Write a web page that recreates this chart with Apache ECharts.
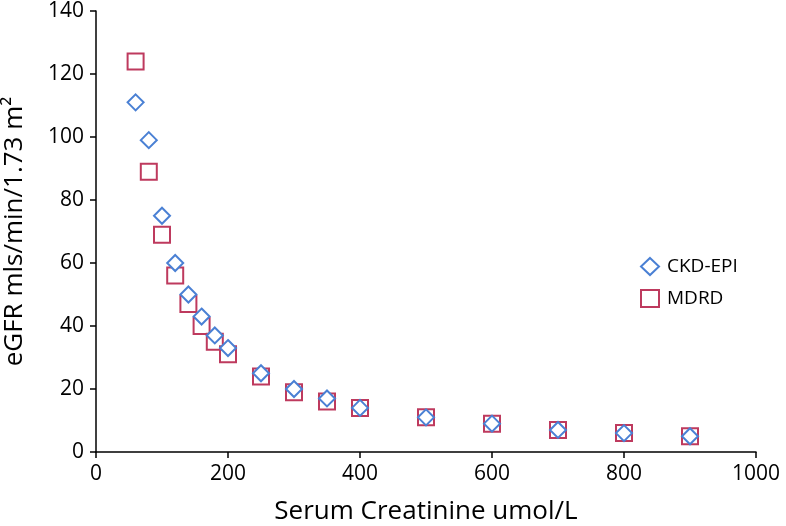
<!DOCTYPE html>
<html><head><meta charset="utf-8">
<script src="https://cdn.jsdelivr.net/npm/echarts@6/dist/echarts.min.js"></script>
<style>html,body{margin:0;padding:0;background:#fff}#c{width:786px;height:526px}</style>
</head><body><div id="c"></div>
<script>
var creatinine = [60,80,100,120,140,160,180,200,250,300,350,400,500,600,700,800,900];
var ckdEpi = [111,99,75,60,50,43,37,33,25,20,17,14,11,9,7,6,5];
var mdrd   = [124,89,69,56,47,40,35,31,24,19,16,14,11,9,7,6,5];
var xTicks = [0,200,400,600,800,1000];
var yTicks = [0,20,40,60,80,100,120,140];

function pairs(xs, ys){ return xs.map(function(x,i){return [x, ys[i]];}); }
var font = '"Open Sans", Lato, sans-serif';
var chart = echarts.init(document.getElementById('c'));
chart.setOption({
  animation:false,
  backgroundColor:'#fff',
  grid:{left:96,right:30,top:11,bottom:74,containLabel:false,outerBoundsMode:'none'},
  legend:{
    orient:'vertical', left:635, top:252, itemGap:13, itemWidth:18, itemHeight:17,
    textStyle:{fontFamily:font,fontSize:19,color:'#000',padding:[0,0,0,3]},
    data:[{name:'CKD-EPI',icon:'diamond'},{name:'MDRD',icon:'rect'}]
  },
  xAxis:{
    type:'value', min:0, max:1000, interval:200,
    name:'Serum Creatinine umol/L', nameLocation:'middle', nameGap:47,
    nameTextStyle:{fontFamily:font,fontSize:26,color:'#000'},
    axisLine:{lineStyle:{color:'#000',width:1.5}},
    axisTick:{show:true,length:6,lineStyle:{color:'#000',width:1.5}},
    axisLabel:{fontFamily:font,fontSize:21,color:'#000',margin:12,
      formatter:function(v){return String(v);}},
    splitLine:{show:false}
  },
  yAxis:{
    type:'value', min:0, max:140, interval:20,
    name:'eGFR mls/min/1.73 m²', nameLocation:'middle', nameGap:68,
    nameTextStyle:{fontFamily:font,fontSize:26,color:'#000'},
    axisLine:{show:true,lineStyle:{color:'#000',width:1.5}},
    axisTick:{show:true,length:6,lineStyle:{color:'#000',width:1.5}},
    axisLabel:{fontFamily:font,fontSize:21,color:'#000',margin:12},
    splitLine:{show:false}
  },
  series:[
    {name:'CKD-EPI', type:'scatter', symbol:'diamond', symbolSize:[16,16],
     itemStyle:{color:'#fff',borderColor:'#4A80D4',borderWidth:2,opacity:1},
     data:pairs(creatinine, ckdEpi), z:3},
    {name:'MDRD', type:'scatter', symbol:'rect', symbolSize:[16,16],
     itemStyle:{color:'rgba(255,255,255,0)',borderColor:'#BE3A5E',borderWidth:2,opacity:1},
     data:pairs(creatinine, mdrd), z:2}
  ]
});
</script></body></html>
